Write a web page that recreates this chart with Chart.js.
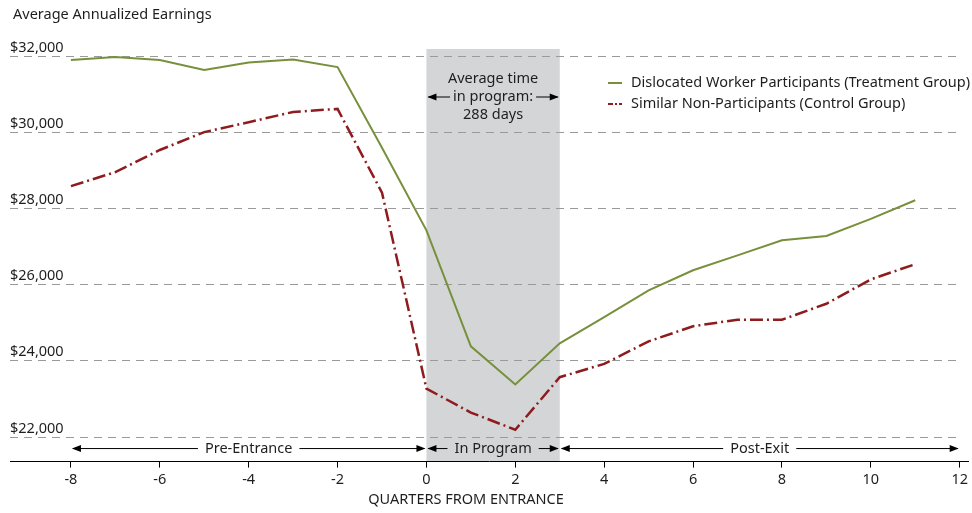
<!DOCTYPE html>
<html>
<head>
<meta charset="utf-8">
<script src="https://cdn.jsdelivr.net/npm/chart.js@4.4.1/dist/chart.umd.min.js"></script>
<style>
  html, body { margin: 0; padding: 0; background: #fff; }
  #wrap { width: 972px; height: 513px; position: relative; }
</style>
</head>
<body>
<div id="wrap"><canvas id="c" width="972" height="513"></canvas></div>
<script>
// Quarters relative to program entrance
const quarters = [-8, -7, -6, -5, -4, -3, -2, -1, 0, 1, 2, 3, 4, 5, 6, 7, 8, 9, 10, 11];
// Average annualized earnings, dislocated worker participants (treatment group)
const treatment = [31895, 31975, 31895, 31630, 31830, 31910, 31710, 29590, 27420, 24370, 23370, 24450,
                   25140, 25840, 26370, 26760, 27160, 27270, 27720, 28210];
// Average annualized earnings, similar non-participants (control group)
const control = [28580, 28950, 29530, 30000, 30260, 30530, 30610, 28410, 23260, 22630, 22180, 23560,
                 23910, 24500, 24900, 25070, 25070, 25490, 26130, 26530];

const xTicks = [-8, -6, -4, -2, 0, 2, 4, 6, 8, 10, 12];
const yGridValues = [22000, 24000, 26000, 28000, 30000, 32000];
const yLabels = ['$22,000', '$24,000', '$26,000', '$28,000', '$30,000', '$32,000'];

const seriesNames = ['Dislocated Worker Participants (Treatment Group)', 'Similar Non-Participants (Control Group)'];
const phaseNames = ['Pre-Entrance', 'In Program', 'Post-Exit'];
const phaseBounds = [-8, 0, 3, 12];
const programStart = 0, programEnd = 3;
const programNote = ['Average time', 'in program:', '288 days'];

const FONT = '"Noto Sans", "Open Sans", sans-serif';
const FSIZE = 14.5;
const TEXT = '#1e1e1e';
const GREEN = '#77903c';
const RED = '#8e1b1e';
const RED_DASH = [13, 4, 2, 4];

function arrowHead(ctx, x, y, dir) {
  ctx.beginPath();
  ctx.moveTo(x, y);
  ctx.lineTo(x - dir * 9, y - 3.5);
  ctx.lineTo(x - dir * 9, y + 3.5);
  ctx.closePath();
  ctx.fill();
}

// Double-headed arrow with a label sitting in a gap in the middle
function labelledArrow(ctx, x1, x2, y, label) {
  ctx.save();
  ctx.strokeStyle = '#000';
  ctx.fillStyle = '#000';
  ctx.lineWidth = 1;
  const mid = (x1 + x2) / 2;
  const w = ctx.measureText(label).width;
  const gap = w / 2 + 7;
  ctx.beginPath();
  ctx.moveTo(x1 + 2, y); ctx.lineTo(mid - gap, y);
  ctx.moveTo(mid + gap, y); ctx.lineTo(x2 - 2, y);
  ctx.stroke();
  arrowHead(ctx, x1 + 1, y, -1);
  arrowHead(ctx, x2 - 1, y, 1);
  ctx.fillStyle = TEXT;
  ctx.textAlign = 'center';
  ctx.textBaseline = 'middle';
  ctx.fillText(label, mid, y);
  ctx.restore();
}

const backdrop = {
  id: 'backdrop',
  beforeDraw(chart) {
    const { ctx, chartArea: a, scales: { x, y } } = chart;
    ctx.save();
    // shaded in-program band
    const bx1 = x.getPixelForValue(programStart), bx2 = x.getPixelForValue(programEnd);
    ctx.fillStyle = '#d4d5d7';
    ctx.fillRect(bx1, a.top, bx2 - bx1, a.bottom - a.top);
    // dashed horizontal gridlines
    ctx.strokeStyle = '#9a9a9a';
    ctx.lineWidth = 1;
    ctx.setLineDash([8, 6]);
    yGridValues.forEach(v => {
      const py = Math.round(y.getPixelForValue(v)) + 0.5;
      ctx.beginPath();
      ctx.moveTo(a.left, py);
      ctx.lineTo(a.right - 12, py);
      ctx.stroke();
    });
    ctx.restore();
  },
  afterDraw(chart) {
    const { ctx, chartArea: a, scales: { x, y } } = chart;
    ctx.save();
    ctx.font = FSIZE + 'px ' + FONT;
    ctx.fillStyle = TEXT;
    // axis heading
    ctx.textAlign = 'left';
    ctx.textBaseline = 'middle';
    ctx.fillText('Average Annualized Earnings', 13, 15);
    // y labels above each gridline
    ctx.textBaseline = 'alphabetic';
    yGridValues.forEach((v, i) => {
      ctx.fillText(yLabels[i], a.left, y.getPixelForValue(v) - 4);
    });
    // x axis title
    ctx.textAlign = 'center';
    ctx.textBaseline = 'middle';
    ctx.fillText('QUARTERS FROM ENTRANCE', 466, 500);

    // phase arrows along the bottom
    const ay = y.getPixelForValue(22000) + 12;
    for (let i = 0; i < phaseNames.length; i++) {
      labelledArrow(ctx, x.getPixelForValue(phaseBounds[i]), x.getPixelForValue(phaseBounds[i + 1]), ay, phaseNames[i]);
    }

    // note inside the shaded band
    const bx1 = x.getPixelForValue(programStart), bx2 = x.getPixelForValue(programEnd);
    const cx = (bx1 + bx2) / 2;
    ctx.fillStyle = TEXT;
    ctx.textAlign = 'center';
    ctx.textBaseline = 'middle';
    programNote.forEach((t, i) => ctx.fillText(t, cx, 79 + i * 18));
    const midW = ctx.measureText(programNote[1]).width;
    ctx.strokeStyle = '#000';
    ctx.fillStyle = '#000';
    ctx.lineWidth = 1;
    const ny = 97;
    ctx.beginPath();
    ctx.moveTo(bx1 + 2, ny); ctx.lineTo(cx - midW / 2 - 3, ny);
    ctx.moveTo(cx + midW / 2 + 3, ny); ctx.lineTo(bx2 - 2, ny);
    ctx.stroke();
    arrowHead(ctx, bx1 + 1, ny, -1);
    arrowHead(ctx, bx2 - 1, ny, 1);

    // legend
    const lx = 608, ly = [83, 104];
    ctx.lineWidth = 2;
    ctx.strokeStyle = GREEN;
    ctx.setLineDash([]);
    ctx.beginPath(); ctx.moveTo(lx, ly[0]); ctx.lineTo(lx + 14, ly[0]); ctx.stroke();
    ctx.strokeStyle = RED;
    ctx.lineWidth = 2;
    ctx.setLineDash([5, 2, 2, 2]);
    ctx.beginPath(); ctx.moveTo(lx, ly[1]); ctx.lineTo(lx + 14, ly[1]); ctx.stroke();
    ctx.setLineDash([]);
    ctx.fillStyle = TEXT;
    ctx.textAlign = 'left';
    seriesNames.forEach((n, i) => ctx.fillText(n, 631, ly[i]));
    ctx.restore();
  }
};

new Chart(document.getElementById('c'), {
  type: 'line',
  data: {
    datasets: [
      {
        label: seriesNames[0],
        data: quarters.map((q, i) => ({ x: q, y: treatment[i] })),
        borderColor: GREEN,
        borderWidth: 2,
        pointRadius: 0,
        tension: 0,
        fill: false
      },
      {
        label: seriesNames[1],
        data: quarters.map((q, i) => ({ x: q, y: control[i] })),
        borderColor: RED,
        borderWidth: 2.5,
        borderDash: RED_DASH,
        pointRadius: 0,
        tension: 0,
        fill: false
      }
    ]
  },
  options: {
    responsive: false,
    animation: false,
    events: [],
    layout: { padding: { left: 10, right: 2, top: 49, bottom: 20 } },
    plugins: { legend: { display: false }, tooltip: { enabled: false } },
    scales: {
      x: {
        type: 'linear',
        min: -9.371,
        max: 12.2,
        afterBuildTicks: s => { s.ticks = xTicks.map(v => ({ value: v })); },
        ticks: { autoSkip: false, color: TEXT, font: { family: FONT, size: FSIZE }, padding: 4, maxRotation: 0 },
        grid: { drawOnChartArea: false, drawTicks: true, tickLength: 6, tickColor: '#000' },
        border: { display: true, color: '#000', width: 1 }
      },
      y: {
        display: false,
        min: 21342,
        max: 32184
      }
    }
  },
  plugins: [backdrop]
});
</script>
</body>
</html>
